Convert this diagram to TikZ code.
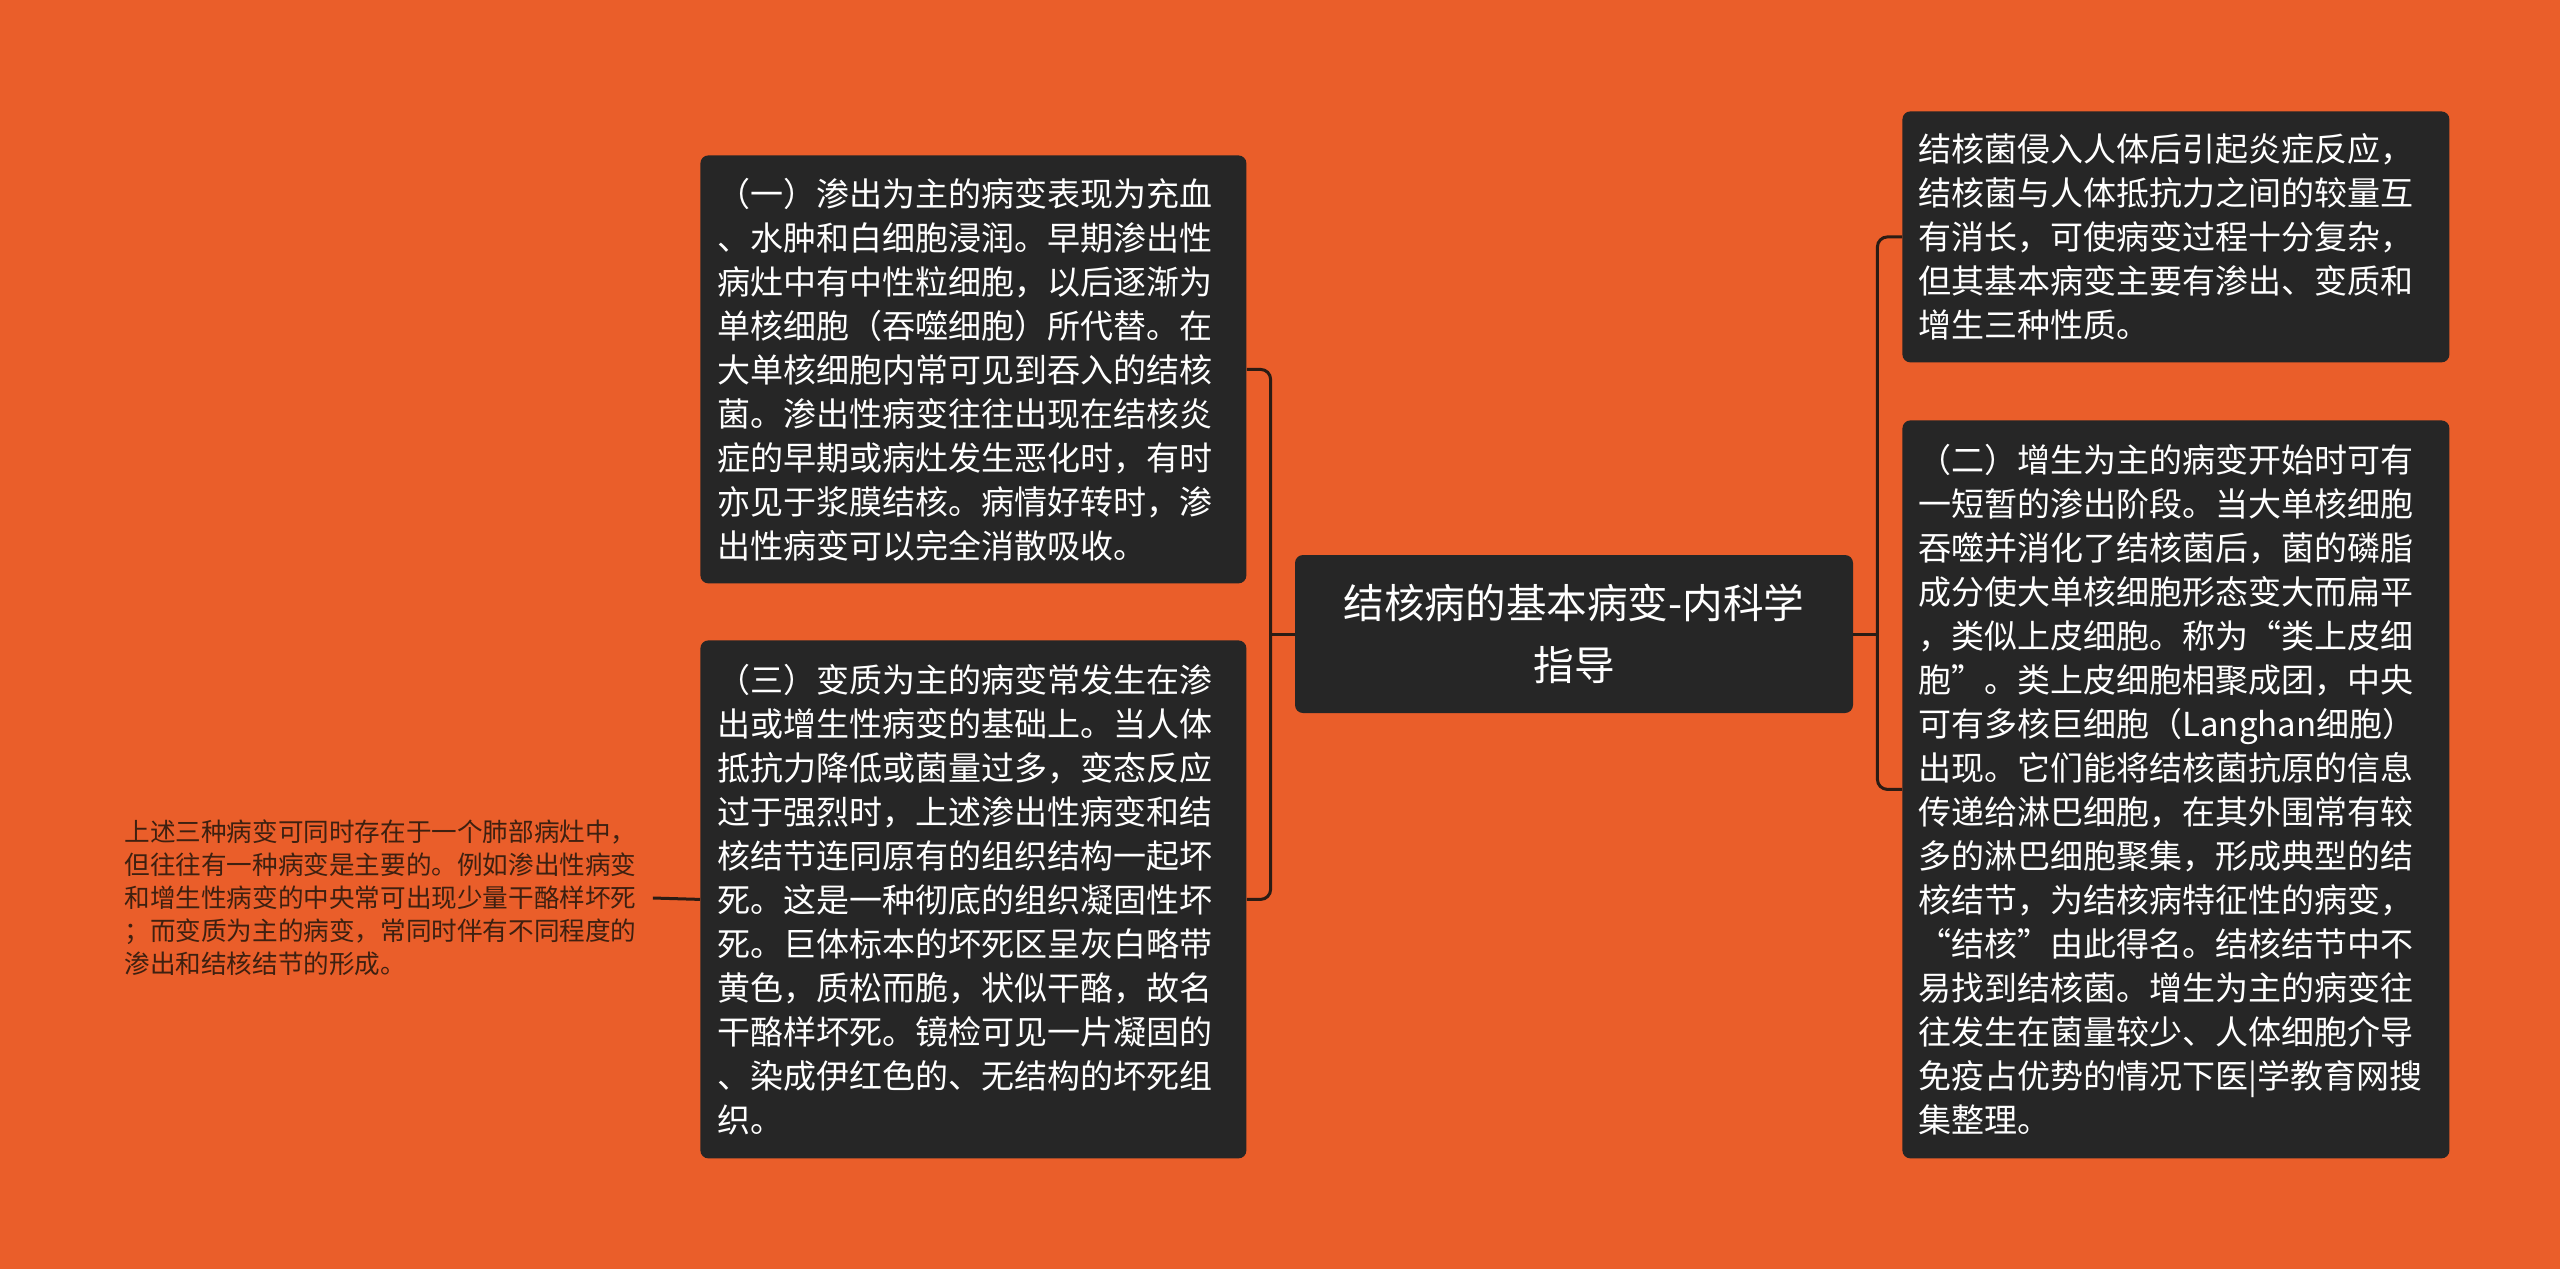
\documentclass[tikz,border=0pt]{standalone}
\usepackage{fontspec}
\setmainfont{Noto Sans CJK SC}
\definecolor{bgc}{RGB}{234,94,42}
\definecolor{boxc}{RGB}{38,38,38}
\definecolor{linec}{RGB}{43,28,20}
\definecolor{notec}{RGB}{62,32,16}
\tikzset{
  box/.style={fill=boxc, rounded corners=4pt, text=white, align=left, inner sep=0pt,
    anchor=north west, font=\fontsize{16.5pt}{22pt}\selectfont},
  conn/.style={draw=linec, line width=1.5pt, rounded corners=5pt},
}
\begin{document}
\begin{tikzpicture}[x=0.5pt,y=-0.5pt]
\useasboundingbox (0,0) rectangle (2560,1269);
\fill[bgc] (0,0) rectangle (2560,1269);

\node[box, fill=boxc, align=center, anchor=center, minimum width=279pt, minimum height=79pt,
  font=\fontsize{20.3pt}{31pt}\selectfont] (c) at (1574,634)
  {结核病的基本病变-内科学\\指导};

\node[box, minimum width=273pt, minimum height=214pt, text width=256pt] (a) at (700,155)
  {（一）渗出为主的病变表现为充血\\
、水肿和白细胞浸润。早期渗出性\\
病灶中有中性粒细胞，以后逐渐为\\
单核细胞（吞噬细胞）所代替。在\\
大单核细胞内常可见到吞入的结核\\
菌。渗出性病变往往出现在结核炎\\
症的早期或病灶发生恶化时，有时\\
亦见于浆膜结核。病情好转时，渗\\
出性病变可以完全消散吸收。};

\node[box, minimum width=273pt, minimum height=259pt, text width=256pt] (b) at (700,640)
  {（三）变质为主的病变常发生在渗\\
出或增生性病变的基础上。当人体\\
抵抗力降低或菌量过多，变态反应\\
过于强烈时，上述渗出性病变和结\\
核结节连同原有的组织结构一起坏\\
死。这是一种彻底的组织凝固性坏\\
死。巨体标本的坏死区呈灰白略带\\
黄色，质松而脆，状似干酪，故名\\
干酪样坏死。镜检可见一片凝固的\\
、染成伊红色的、无结构的坏死组\\
织。};

\node[box, minimum width=273.5pt, minimum height=125.5pt, text width=257.5pt] (d) at (1902,111)
  {结核菌侵入人体后引起炎症反应，\\
结核菌与人体抵抗力之间的较量互\\
有消长，可使病变过程十分复杂，\\
但其基本病变主要有渗出、变质和\\
增生三种性质。};

\node[box, minimum width=273.5pt, minimum height=369pt, text width=257.5pt] (e) at (1902,420)
  {（二）增生为主的病变开始时可有\\
一短暂的渗出阶段。当大单核细胞\\
吞噬并消化了结核菌后，菌的磷脂\\
成分使大单核细胞形态变大而扁平\\
，类似上皮细胞。称为“类上皮细\\
胞”。类上皮细胞相聚成团，中央\\
可有多核巨细胞（Langhan细胞）\\
出现。它们能将结核菌抗原的信息\\
传递给淋巴细胞，在其外围常有较\\
多的淋巴细胞聚集，形成典型的结\\
核结节，为结核病特征性的病变，\\
“结核”由此得名。结核结节中不\\
易找到结核菌。增生为主的病变往\\
往发生在菌量较少、人体细胞介导\\
免疫占优势的情况下医|学教育网搜\\
集整理。};

\node[text=notec, align=left, anchor=west, inner xsep=4pt, inner ysep=0pt, text width=260pt,
  font=\fontsize{12.8pt}{16.5pt}\selectfont] (f) at (116,898)
  {上述三种病变可同时存在于一个肺部病灶中，\\
但往往有一种病变是主要的。例如渗出性病变\\
和增生性病变的中央常可出现少量干酪样坏死\\
；而变质为主的病变，常同时伴有不同程度的\\
渗出和结核结节的形成。};

\draw[conn] (c.west) -- ++(-24,0) coordinate (lj);
\draw[conn] (lj) |- (a.east);
\draw[conn] (lj) |- (b.east);
\draw[conn] (c.east) -- ++(24,0) coordinate (rj);
\draw[conn] (rj) |- (d.west);
\draw[conn] (rj) |- (e.west);
\draw[conn] (b.west) -- (f.east);
\end{tikzpicture}
\end{document}
